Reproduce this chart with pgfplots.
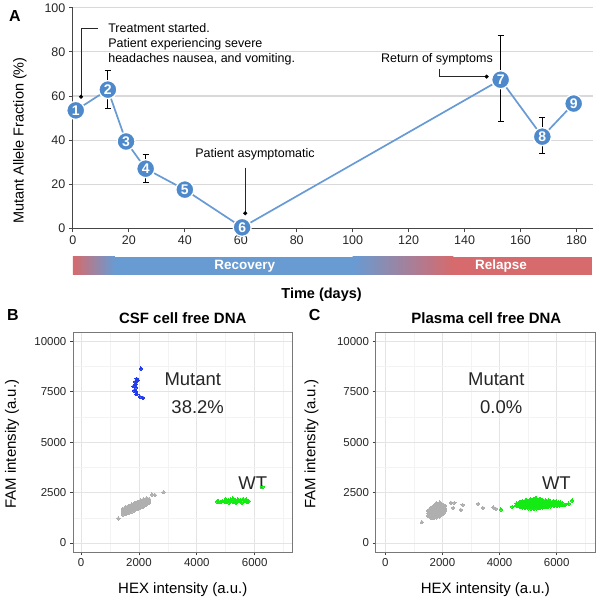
\documentclass[border=0pt]{standalone}
\usepackage{pgfplots}
\pgfplotsset{compat=1.18}
\usepackage{fontspec}
\setmainfont{Liberation Sans}
\definecolor{lineblue}{RGB}{104,154,212}
\definecolor{markblue}{RGB}{78,138,203}
\definecolor{barred}{RGB}{214,106,108}
\definecolor{barblue}{RGB}{104,155,210}
\definecolor{gridA}{RGB}{217,217,217}
\definecolor{axisA}{RGB}{70,70,70}
\definecolor{ptgray}{RGB}{175,175,175}
\definecolor{ptgreen}{RGB}{20,235,20}
\definecolor{ptblue}{RGB}{35,60,235}
\definecolor{ggborder}{RGB}{120,120,120}
\definecolor{ggmajor}{RGB}{228,228,228}
\definecolor{ggminor}{RGB}{243,243,243}
\newcommand{\fs}[1]{\fontsize{#1}{#1}\selectfont}
\pgfplotsset{
  ggaxis/.style={scale only axis, width=220pt, height=220pt,
    ymin=-450, ymax=10450, scaled ticks=false,
    xtick={0,2000,4000,6000}, ytick={0,2500,5000,7500,10000},
    minor xtick={1000,3000,5000,7000}, minor ytick={1250,3750,6250,8750},
    grid=both, major grid style={ggmajor, line width=0.8pt}, minor grid style={ggminor, line width=0.6pt},
    axis line style={ggborder, line width=0.8pt},
    xtick pos=left, ytick pos=left, tick align=outside, major tick length=3pt,
    minor tick style={draw=none},
    major tick style={black!75, line width=0.7pt},
    tick label style={font=\fs{11.5}, text=black!85},
    /pgf/number format/1000 sep={}, /pgf/number format/assume math mode=true,
    clip=false},
  cloud/.style={only marks, mark=*, mark size=1.7pt, color=#1, mark options={draw=#1, fill=#1, line width=0pt}}
}
\begin{document}
\begin{tikzpicture}
\path (0pt,0pt) rectangle (602pt,-604pt);
% ---------------- Panel A ----------------
\begin{axis}[at={(73pt,-228pt)}, anchor=south west, scale only axis,
  width=521pt, height=221pt, xmin=0, xmax=186, ymin=0, ymax=100,
  axis x line=bottom, axis y line=left, axis line style={axisA, line width=0.9pt, -},
  xtick={0,20,...,180}, ytick={0,20,...,100},
  tick align=outside, major tick length=4pt, tick style={axisA, line width=0.9pt},
  ymajorgrids, grid style={gridA, line width=1.1pt},
  tick label style={font=\fs{12.5}, text=black!85},
  /pgf/number format/assume math mode=true,
  clip=false]
\shade[left color=barred, right color=barblue] (axis cs:0,-12.9) rectangle (axis cs:15,-21);
\fill[barblue] (axis cs:14.9,-12.9) rectangle (axis cs:100.1,-21);
\shade[left color=barblue, right color=barred] (axis cs:100,-12.9) rectangle (axis cs:136,-21);
\fill[barred] (axis cs:135.9,-12.9) rectangle (axis cs:185.5,-21);
\node[white, font=\bfseries\fs{13.5}] at (axis cs:61.4,-17) {Recovery};
\node[white, font=\bfseries\fs{13.5}] at (axis cs:153,-17) {Relapse};
% callouts
\draw[black!85, line width=0.6pt] (axis cs:2.9,59.7) -- (axis cs:2.9,90.5) -- (axis cs:8.9,90.5);
\draw[black!85, line width=0.6pt] (axis cs:61.6,27.6) -- (axis cs:61.6,6.9);
\draw[black!85, line width=0.6pt] (axis cs:131.1,72.3) -- (axis cs:131.1,68.8) -- (axis cs:147.9,68.8);
\addplot[only marks, mark=*, mark size=1.8pt, black] coordinates {(2.9,59.7) (61.6,6.9) (147.9,68.8)};
\node[anchor=base west, font=\fs{12.5}] at (axis cs:11.4,88.6) {Treatment started.};
\node[anchor=base west, font=\fs{12.5}] at (axis cs:11.4,81.8) {Patient experiencing severe};
\node[anchor=base west, font=\fs{12.5}] at (axis cs:11.4,75.0) {headaches nausea, and vomiting.};
\node[anchor=base west, font=\fs{12.5}] at (axis cs:42.5,32.0) {Patient asymptomatic};
\node[anchor=base west, font=\fs{12.5}] at (axis cs:108.9,75.0) {Return of symptoms};
% error bars
\addplot[only marks, mark=none, error bars/.cd, y dir=both, y explicit,
  error bar style={black, line width=0.9pt},
  error mark options={rotate=90, black, mark size=3pt, line width=0.9pt}]
  coordinates {(12.5,62.9) +=(0,8.6) -=(0,8.6)
               (26,27.1) +=(0,6.4) -=(0,6.3)
               (152.9,67.4) +=(0,19.9) -=(0,19.0)
               (167.8,41.6) +=(0,8.6) -=(0,7.7)};
\addplot[lineblue, line width=1.7pt, mark=*, mark size=9pt,
  mark options={fill=markblue, draw=white, line width=1.3pt},
  nodes near coords, point meta=explicit symbolic,
  nodes near coords align={center},
  every node near coord/.append style={white, font=\bfseries\fs{14}, anchor=center, inner sep=0pt}]
coordinates {(1,53.5)[1] (12.5,62.9)[2] (19,39.4)[3] (26,27.1)[4] (40,17.6)[5]
             (60.5,0.5)[6] (152.9,67.4)[7] (167.8,41.6)[8] (179,56.6)[9]};
\end{axis}
\node[font=\bfseries\fs{16}] at (15pt,-15pt) {A};
\node[rotate=90, font=\fs{14.5}] at (20pt,-140pt) {Mutant Allele Fraction (\%)};
\node[font=\bfseries\fs{14.5}] at (322pt,-294pt) {Time (days)};
% ---------------- Panel B ----------------
\begin{axis}[ggaxis, at={(73pt,-552pt)}, anchor=south west, xmin=-280, xmax=7310]
\addplot[cloud=ptgray] coordinates {
(1450,1400)(1450,1500)(1450,1600)(1450,1700)
(1550,1430)(1550,1550)(1550,1670)(1550,1790)
(1650,1490)(1650,1610)(1650,1730)(1650,1850)
(1750,1550)(1750,1670)(1750,1790)(1750,1910)
(1850,1620)(1850,1740)(1850,1860)(1850,1980)
(1950,1680)(1950,1800)(1950,1920)(1950,2040)
(2050,1740)(2050,1860)(2050,1980)(2050,2100)
(2150,1800)(2150,1920)(2150,2040)(2150,2160)
(2250,1880)(2250,1990)(2250,2100)(2250,2200)
(2350,2000)(2350,2100)(2350,2180)
(1500,1460)(1500,1580)(1500,1700)
(1600,1520)(1600,1640)(1600,1760)
(1700,1580)(1700,1700)(1700,1820)
(1800,1650)(1800,1770)(1800,1890)
(1900,1710)(1900,1830)(1900,1950)
(2000,1770)(2000,1890)(2000,2010)
(2100,1830)(2100,1950)(2100,2070)
(2200,1890)(2200,2010)(2200,2130)
(2300,1960)(2300,2070)(2300,2170)
(1290,1220)(2450,2400)(2550,2380)(2850,2520)};
\addplot[cloud=ptgreen] coordinates {
(4700,2060)(4760,2050)(4820,2040)(4880,2080)(4950,2100)(5000,2180)(5030,2050)
(5080,2120)(5120,2000)(5160,2150)(5200,2080)(5250,2200)(5280,2020)(5330,2110)
(5380,2060)(5420,2160)(5470,2080)(5520,2130)(5560,2000)(5600,2180)(5650,2090)
(5700,2150)(5760,2030)(5790,2080)(5150,2060)(5350,1990)(4980,2030)(6270,2780)};
\addplot[cloud=ptblue] coordinates {
(2070,8650)(1920,8150)(1950,8050)(1870,7990)(1900,7880)(1815,7780)(1900,7720)
(1840,7560)(1900,7500)(1920,7380)(2030,7260)(2140,7200)};
\node[font=\fs{18.5}, text=black!85] at (axis cs:3860,8120) {Mutant};
\node[font=\fs{18.5}, text=black!85] at (axis cs:4030,6730) {38.2\%};
\node[font=\fs{18.5}, text=black!85] at (axis cs:5930,2970) {WT};
\end{axis}
\node[font=\bfseries\fs{16}] at (13pt,-315pt) {B};
\node[font=\bfseries\fs{15}] at (183pt,-318pt) {CSF cell free DNA};
\node[font=\fs{15}] at (183pt,-590pt) {HEX intensity (a.u.)};
\node[rotate=90, font=\fs{15}] at (12pt,-444pt) {FAM intensity (a.u.)};
% ---------------- Panel C ----------------
\begin{axis}[ggaxis, at={(376pt,-552pt)}, anchor=south west, xmin=-340, xmax=7350]
\addplot[cloud=ptgray] coordinates {
(1500,1350)(1500,1470)(1500,1590)
(1600,1250)(1600,1370)(1600,1490)(1600,1610)(1600,1730)
(1700,1250)(1700,1370)(1700,1490)(1700,1610)(1700,1730)(1700,1850)
(1800,1270)(1800,1390)(1800,1510)(1800,1630)(1800,1750)(1800,1870)(1800,1960)
(1900,1320)(1900,1440)(1900,1560)(1900,1680)(1900,1800)(1900,1920)(1900,2000)
(2000,1430)(2000,1550)(2000,1670)(2000,1790)(2000,1900)
(2100,1600)(2100,1720)(2100,1840)
(1550,1310)(1550,1430)(1550,1550)(1550,1670)
(1650,1250)(1650,1310)(1650,1430)(1650,1550)(1650,1670)(1650,1790)
(1750,1310)(1750,1430)(1750,1550)(1750,1670)(1750,1790)(1750,1910)
(1850,1330)(1850,1450)(1850,1570)(1850,1690)(1850,1810)(1850,1930)
(1950,1380)(1950,1500)(1950,1620)(1950,1740)(1950,1860)(1950,1960)
(2050,1500)(2050,1620)(2050,1740)(2050,1860)
(1280,1030)(2300,1990)(2420,1990)(2380,1740)(2650,1640)(2710,1890)
(3250,1940)(3420,1740)(3780,1770)(3870,1690)};
\addplot[cloud=ptgreen] coordinates {
(4600,1850)(4600,1960)
(4700,1800)(4700,1920)(4700,2020)
(4800,1760)(4800,1880)(4800,2000)(4800,2080)
(4900,1740)(4900,1860)(4900,1980)(4900,2100)
(5000,1720)(5000,1840)(5000,1960)(5000,2080)
(5100,1700)(5100,1820)(5100,1940)(5100,2060)(5100,2160)
(5200,1700)(5200,1820)(5200,1940)(5200,2060)(5200,2180)
(5300,1720)(5300,1840)(5300,1960)(5300,2080)(5300,2200)
(5400,1740)(5400,1860)(5400,1980)(5400,2100)(5400,2180)
(5500,1760)(5500,1880)(5500,2000)(5500,2100)
(5600,1780)(5600,1900)(5600,2020)(5600,2110)
(5700,1800)(5700,1920)(5700,2040)(5700,2100)
(5800,1820)(5800,1940)(5800,2050)
(5900,1840)(5900,1960)(5900,2060)
(6000,1850)(6000,1960)(6000,2050)
(6100,1860)(6100,1960)
(6200,1880)(6200,1980)
(4650,1860)(4650,1980)
(4750,1820)(4750,1940)(4750,2040)
(4850,1800)(4850,1920)(4850,2040)
(4950,1780)(4950,1900)(4950,2020)(4950,2120)
(5050,1760)(5050,1880)(5050,2000)(5050,2120)
(5150,1760)(5150,1880)(5150,2000)(5150,2120)
(5250,1760)(5250,1880)(5250,2000)(5250,2120)(5250,2220)
(5350,1780)(5350,1900)(5350,2020)(5350,2140)
(5450,1800)(5450,1920)(5450,2040)(5450,2150)
(5550,1820)(5550,1940)(5550,2060)
(5650,1840)(5650,1960)(5650,2080)
(5750,1860)(5750,1980)(5750,2070)
(5850,1880)(5850,2000)
(5950,1900)(5950,2010)
(6050,1900)(6050,2010)
(6150,1910)(6150,2000)
(4050,1670)(4450,1800)(6300,1900)(6420,1950)(6540,2110)};
\node[font=\fs{18.5}, text=black!85] at (axis cs:3890,8100) {Mutant};
\node[font=\fs{18.5}, text=black!85] at (axis cs:4060,6720) {0.0\%};
\node[font=\fs{18.5}, text=black!85] at (axis cs:5990,2960) {WT};
\end{axis}
\node[font=\bfseries\fs{16}] at (315pt,-315pt) {C};
\node[font=\bfseries\fs{15}] at (487pt,-318pt) {Plasma cell free DNA};
\node[font=\fs{15}] at (486pt,-590pt) {HEX intensity (a.u.)};
\node[rotate=90, font=\fs{15}] at (312pt,-444pt) {FAM intensity (a.u.)};
\end{tikzpicture}
\end{document}
